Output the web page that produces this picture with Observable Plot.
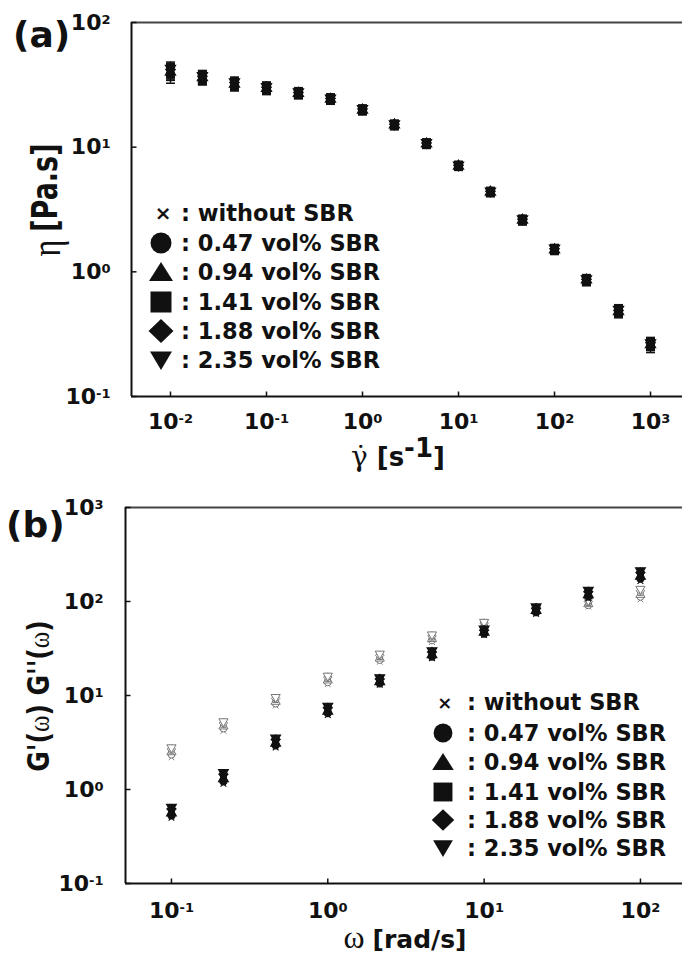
<!DOCTYPE html>
<html>
<head>
<meta charset="utf-8">
<script src="https://cdn.jsdelivr.net/npm/d3@7"></script>
<script src="https://cdn.jsdelivr.net/npm/@observablehq/plot@0.6"></script>
<style>
  html, body { margin: 0; padding: 0; background: #fff; overflow: hidden; }
  .panel { width: 682px; position: relative; }
  svg { display: block; }
</style>
</head>
<body>
<div class="panel" id="panelA"></div>
<div class="panel" id="panelB"></div>
<script>
// ---------------- DATA ----------------
const seriesLabels = ["without SBR", "0.47 vol% SBR", "0.94 vol% SBR", "1.41 vol% SBR", "1.88 vol% SBR", "2.35 vol% SBR"];

// (a) steady shear viscosity
const shearRate = [0.01, 0.0215, 0.0464, 0.1, 0.215, 0.464, 1, 2.15, 4.64, 10, 21.5, 46.4, 100, 215, 464, 1000];
const etaWithout = [37, 35, 31, 29, 26.5, 24, 19.5, 14.8, 10.5, 7.0, 4.3, 2.55, 1.48, 0.84, 0.47, 0.25];
const eta047 = [39, 35.5, 31.5, 29.2, 26.8, 24.1, 19.7, 15.0, 10.6, 7.05, 4.35, 2.6, 1.5, 0.85, 0.48, 0.26];
const eta094 = [40, 36, 32, 29.6, 27, 24.2, 19.8, 15.1, 10.6, 7.05, 4.36, 2.6, 1.5, 0.86, 0.48, 0.26];
const eta141 = [41, 36.5, 32.5, 30, 27.2, 24.4, 20, 15.2, 10.7, 7.1, 4.4, 2.62, 1.52, 0.86, 0.49, 0.265];
const eta188 = [42, 37, 33, 30.3, 27.5, 24.6, 20.2, 15.3, 10.8, 7.15, 4.42, 2.64, 1.53, 0.87, 0.49, 0.27];
const eta235 = [43, 37.5, 33.5, 30.6, 27.8, 24.8, 20.4, 15.4, 10.9, 7.2, 4.45, 2.66, 1.55, 0.88, 0.5, 0.27];
// relative error bar half-widths
const etaRelErr = [0.12, 0.1, 0.09, 0.09, 0.08, 0.08, 0.07, 0.07, 0.07, 0.07, 0.07, 0.07, 0.07, 0.08, 0.09, 0.1];

// (b) dynamic moduli
const omega = [0.1, 0.215, 0.464, 1, 2.15, 4.64, 10, 21.5, 46.4, 100];
// G' (filled symbols)
const gpWithout = [0.50, 1.15, 2.8, 6.2, 13.0, 25.0, 44, 74, 108, 165];
const gp047 = [0.53, 1.22, 2.95, 6.5, 13.5, 26.0, 45.5, 77, 113, 175];
const gp094 = [0.56, 1.30, 3.1, 6.8, 14.0, 27.0, 47, 80, 118, 185];
const gp141 = [0.59, 1.37, 3.25, 7.1, 14.5, 28.0, 48, 82, 122, 193];
const gp188 = [0.62, 1.45, 3.4, 7.4, 15.0, 29.0, 49.5, 85, 127, 203];
const gp235 = [0.65, 1.52, 3.55, 7.7, 15.5, 30.0, 51, 88, 132, 213];
// G'' (open symbols)
const gppWithout = [2.2, 4.2, 7.8, 13.2, 22.8, 37, 52, 74, 88, 105];
const gpp047 = [2.35, 4.45, 8.2, 13.8, 23.8, 38.5, 54, 77, 91, 112];
const gpp094 = [2.5, 4.7, 8.6, 14.5, 24.8, 40, 56, 79, 94, 118];
const gpp141 = [2.6, 4.9, 9.0, 15.1, 25.8, 41.5, 57.5, 81, 97, 124];
const gpp188 = [2.7, 5.1, 9.3, 15.7, 26.8, 43, 59, 83, 100, 130];
const gpp235 = [2.8, 5.3, 9.6, 16.2, 27.8, 44.5, 60.5, 85, 103, 136];

// tick values
const xTicksA = [0.01, 0.1, 1, 10, 100, 1000];
const yTicksA = [0.1, 1, 10, 100];
const xTicksB = [0.1, 1, 10, 100];
const yTicksB = [0.1, 1, 10, 100, 1000];

// ---------------- SYMBOLS ----------------
const SQ3 = Math.sqrt(3);
const symTriDown = { draw(ctx, size) { const y = -Math.sqrt(size / (SQ3 * 3)); ctx.moveTo(0, -2 * y); ctx.lineTo(-SQ3 * y, y); ctx.lineTo(SQ3 * y, y); ctx.closePath(); } };
const symTriUp = { draw(ctx, size) { const y = -Math.sqrt(size / (SQ3 * 3)); ctx.moveTo(0, 2 * y); ctx.lineTo(-SQ3 * y, -y); ctx.lineTo(SQ3 * y, -y); ctx.closePath(); } };
const symDiamond = { draw(ctx, size) { const r = Math.sqrt(size / 2); ctx.moveTo(0, -r); ctx.lineTo(r, 0); ctx.lineTo(0, r); ctx.lineTo(-r, 0); ctx.closePath(); } };
const symSquare = { draw(ctx, size) { const w = Math.sqrt(size) * 0.9, h = w / 2; ctx.rect(-h, -h, w, w); } };
const symTimes = { draw(ctx, size) { const r = Math.sqrt(size) * 0.45; ctx.moveTo(-r, -r); ctx.lineTo(r, r); ctx.moveTo(r, -r); ctx.lineTo(-r, r); } };
const seriesSymbols = [symTimes, "circle", symTriUp, symSquare, symDiamond, symTriDown];
const tickUp = { draw(ctx) { ctx.moveTo(0, 0); ctx.lineTo(0, -5); } };
const tickRight = { draw(ctx) { ctx.moveTo(0, 0); ctx.lineTo(5, 0); } };
const capSym = { draw(ctx) { ctx.moveTo(-4.5, 0); ctx.lineTo(4.5, 0); } };

// ---------------- TABLES ----------------
const etaSeries = [etaWithout, eta047, eta094, eta141, eta188, eta235];
const rowsA = etaSeries.flatMap((arr, s) => arr.map((v, i) => ({
  series: s, x: shearRate[i], v, lo: v * (1 - etaRelErr[i]), hi: v * (1 + etaRelErr[i])
})));
const gpSeries = [gpWithout, gp047, gp094, gp141, gp188, gp235];
const gppSeries = [gppWithout, gpp047, gpp094, gpp141, gpp188, gpp235];
const rowsGp = gpSeries.flatMap((arr, s) => arr.map((v, i) => ({series: s, x: omega[i], v})));
const rowsGpp = gppSeries.flatMap((arr, s) => arr.map((v, i) => ({series: s, x: omega[i], v})));

const fmtPow = d => "10^" + Math.round(Math.log10(d));
const FONT = "DejaVu Sans, Liberation Sans, sans-serif";

function frameMarks(xDom, yDom, xTicks, yTicks, padX, padY) {
  return [
    Plot.ruleY([yDom[1]], {stroke: "#444", strokeWidth: 2}),
    Plot.ruleY([yDom[0]], {stroke: "#111", strokeWidth: 2}),
    Plot.ruleX([xDom[0]], {stroke: "#111", strokeWidth: 2}),
    Plot.dot(xTicks, {x: d => d, y: () => yDom[0], symbol: tickUp, stroke: "#111", strokeWidth: 1.5, fill: "none"}),
    Plot.dot(yTicks, {y: d => d, x: () => xDom[0], symbol: tickRight, stroke: "#111", strokeWidth: 1.5, fill: "none"}),
    Plot.axisX({ticks: xTicks, tickFormat: fmtPow, tickSize: 0, tickPadding: padX, label: null, fontSize: 22, fontWeight: "bold", fill: "#111"}),
    Plot.axisY({ticks: yTicks, tickFormat: fmtPow, tickSize: 0, tickPadding: padY, label: null, fontSize: 22, fontWeight: "bold", fill: "#111"})
  ];
}

const NS = "http://www.w3.org/2000/svg";
function superscriptTicks(svg) {
  svg.querySelectorAll("text").forEach(t => {
    const m = t.textContent.match(/^10\^(-?\d+)$/);
    if (m) {
      t.textContent = "10";
      const ts = document.createElementNS(NS, "tspan");
      ts.setAttribute("dy", "-0.45em");
      ts.setAttribute("font-size", "13");
      ts.textContent = m[1];
      t.appendChild(ts);
    }
  });
}

function addLegend(svg, ys, symX, textX, s) {
  const g = d3.select(svg).append("g").attr("fill", "#111");
  ys.forEach((y, i) => {
    const gg = g.append("g").attr("transform", `translate(${symX},${y}) scale(${s})`);
    if (i === 0) gg.append("text").attr("x", 2).attr("text-anchor", "middle").attr("dominant-baseline", "central")
      .attr("font-family", FONT).attr("font-size", 20).text("×");
    if (i === 1) gg.append("circle").attr("r", 10.5);
    if (i === 2) gg.append("path").attr("d", "M0,-10L12,9L-12,9Z");
    if (i === 3) gg.append("rect").attr("x", -10.5).attr("y", -10.5).attr("width", 21).attr("height", 21);
    if (i === 4) gg.append("path").attr("d", "M0,-12L12.5,0L0,12L-12.5,0Z");
    if (i === 5) gg.append("path").attr("d", "M-11,-8.5L11,-8.5L0,10Z");
    g.append("text").attr("x", textX).attr("y", y).attr("dominant-baseline", "central")
      .attr("text-anchor", "start")
      .attr("font-family", FONT).attr("font-weight", "bold").attr("font-size", 22.5)
      .text(": " + seriesLabels[i]);
  });
}

// ---------------- PANEL A ----------------
const xDomA = [Math.pow(10, -2.406), Math.pow(10, 3.333)];
const yDomA = [0.1, 100];
const plotA = Plot.plot({
  width: 682, height: 480,
  marginTop: 22, marginBottom: 84, marginLeft: 131, marginRight: 0,
  x: {type: "log", domain: xDomA, axis: null},
  y: {type: "log", domain: yDomA, axis: null},
  style: {fontFamily: FONT, fontWeight: "bold", fontSize: "22px", color: "#111", background: "white", overflow: "visible"},
  marks: [
    Plot.ruleX(rowsA, {x: "x", y1: "lo", y2: "hi", stroke: "#111", strokeWidth: 1.5}),
    Plot.dot(rowsA, {x: "x", y: "lo", symbol: capSym, stroke: "#111", strokeWidth: 1.5}),
    Plot.dot(rowsA, {x: "x", y: "hi", symbol: capSym, stroke: "#111", strokeWidth: 1.5}),
    ...seriesSymbols.map((sym, s) => Plot.dot(rowsA.filter(d => d.series === s), {
      x: "x", y: "v", symbol: sym, r: 3.8, fill: "#111", stroke: "#111", strokeWidth: 1.2
    })),
    ...frameMarks(xDomA, yDomA, xTicksA, yTicksA, 17, 21)
  ]
});
document.getElementById("panelA").appendChild(plotA);
superscriptTicks(plotA);

// labels for A
{
  const svg = d3.select(plotA);
  svg.append("text").attr("x", 13).attr("y", 47).attr("text-anchor", "start").attr("font-family", FONT).attr("font-weight", "bold")
    .attr("font-size", 36).attr("fill", "#111").text("(a)");
  const yl = svg.append("text").attr("transform", "translate(45,200) rotate(-90) scale(1,1.3)")
    .attr("text-anchor", "middle").attr("dominant-baseline", "central").attr("fill", "#111");
  yl.append("tspan").attr("font-family", "Liberation Serif, serif").attr("font-weight", "normal").attr("font-size", 32).text("η ");
  yl.append("tspan").attr("font-family", FONT).attr("font-weight", "bold").attr("font-size", 27).text("[Pa.s]");
  const xl = svg.append("text").attr("x", 398).attr("y", 466).attr("text-anchor", "middle").attr("fill", "#111");
  xl.append("tspan").attr("font-family", "DejaVu Serif, serif").attr("font-weight", "normal").attr("font-size", 28).text("γ̇ ");
  xl.append("tspan").attr("font-family", FONT).attr("font-weight", "bold").attr("font-size", 26).text("[s");
  xl.append("tspan").attr("font-family", FONT).attr("font-weight", "bold").attr("font-size", 26).attr("dy", -9).text("-1");
  xl.append("tspan").attr("font-family", FONT).attr("font-weight", "bold").attr("font-size", 26).attr("dy", 9).text("]");
  addLegend(plotA, [213, 243, 272, 302, 331, 360], 161, 181, 1);
}

// ---------------- PANEL B ----------------
const xDomB = [Math.pow(10, -1.294), Math.pow(10, 2.269)];
const yDomB = [0.1, 1000];
const plotB = Plot.plot({
  width: 682, height: 487,
  marginTop: 27, marginBottom: 84, marginLeft: 125, marginRight: 0,
  x: {type: "log", domain: xDomB, axis: null},
  y: {type: "log", domain: yDomB, axis: null},
  style: {fontFamily: FONT, fontWeight: "bold", fontSize: "22px", color: "#111", background: "white", overflow: "visible"},
  marks: [
    ...seriesSymbols.map((sym, s) => Plot.dot(rowsGpp.filter(d => d.series === s), {
      x: "x", y: "v", symbol: sym, r: 3.4, fill: "white", stroke: "#777", strokeWidth: 1
    })),
    ...seriesSymbols.map((sym, s) => Plot.dot(rowsGp.filter(d => d.series === s), {
      x: "x", y: "v", symbol: sym, r: 3.6, fill: "#111", stroke: "#111", strokeWidth: 1.2
    })),
    ...frameMarks(xDomB, yDomB, xTicksB, yTicksB, 19, 22)
  ]
});
document.getElementById("panelB").appendChild(plotB);
superscriptTicks(plotB);

{
  const svg = d3.select(plotB);
  svg.append("text").attr("x", 6).attr("y", 57).attr("text-anchor", "start").attr("font-family", FONT).attr("font-weight", "bold")
    .attr("font-size", 36).attr("fill", "#111").text("(b)");
  const yl = svg.append("text").attr("transform", "translate(38,216) rotate(-90) scale(1,1.2)")
    .attr("text-anchor", "middle").attr("dominant-baseline", "central").attr("fill", "#111")
    .attr("font-family", FONT).attr("font-weight", "bold").attr("font-size", 25);
  yl.append("tspan").text("G'(");
  yl.append("tspan").attr("font-family", "Liberation Serif, serif").attr("font-weight", "normal").text("ω");
  yl.append("tspan").text(") G''(");
  yl.append("tspan").attr("font-family", "Liberation Serif, serif").attr("font-weight", "normal").text("ω");
  yl.append("tspan").text(")");
  const xl = svg.append("text").attr("x", 405).attr("y", 468).attr("text-anchor", "middle").attr("fill", "#111");
  xl.append("tspan").attr("font-family", "Liberation Serif, serif").attr("font-weight", "normal").attr("font-size", 32).text("ω ");
  xl.append("tspan").attr("font-family", FONT).attr("font-weight", "bold").attr("font-size", 25).text("[rad/s]");
  addLegend(plotB, [222, 253, 282, 312, 340, 368], 443, 467, 0.9);
}
</script>
</body>
</html>
